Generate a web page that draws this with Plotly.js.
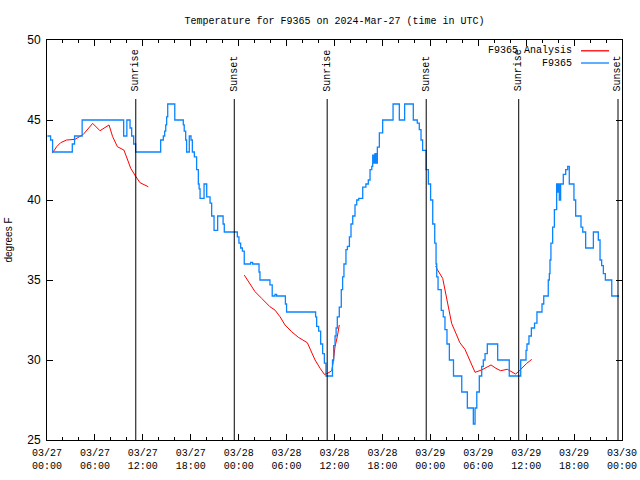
<!DOCTYPE html>
<html><head><meta charset="utf-8">
<script src="https://cdn.plot.ly/plotly-3.0.1.min.js"></script>
<style>html,body{margin:0;padding:0;background:#fff}</style>
</head><body><div id="chart" style="width:640px;height:480px"></div>
<script>
// F9365 observed temperature (deg F), step series
const blueTimes = [
'2024-03-27 00:03','2024-03-27 00:27','2024-03-27 00:42','2024-03-27 03:10','2024-03-27 03:27','2024-03-27 04:24',
'2024-03-27 09:36','2024-03-27 10:00','2024-03-27 10:24','2024-03-27 10:36','2024-03-27 10:51','2024-03-27 11:06',
'2024-03-27 14:14','2024-03-27 14:34','2024-03-27 14:44','2024-03-27 14:52','2024-03-27 14:59','2024-03-27 15:07',
'2024-03-27 16:00','2024-03-27 17:04','2024-03-27 17:11','2024-03-27 17:22','2024-03-27 17:29','2024-03-27 17:49',
'2024-03-27 18:02','2024-03-27 18:12','2024-03-27 18:27','2024-03-27 18:44','2024-03-27 18:57','2024-03-27 19:03',
'2024-03-27 19:10','2024-03-27 19:40','2024-03-27 20:00','2024-03-27 20:25','2024-03-27 20:37','2024-03-27 20:55',
'2024-03-27 21:22','2024-03-27 22:03','2024-03-27 22:12','2024-03-27 23:50','2024-03-28 00:02','2024-03-28 00:15',
'2024-03-28 00:28','2024-03-28 00:42','2024-03-28 01:30','2024-03-28 01:45','2024-03-28 02:33','2024-03-28 02:40',
'2024-03-28 03:55','2024-03-28 04:12','2024-03-28 04:33','2024-03-28 04:45','2024-03-28 05:51','2024-03-28 06:00',
'2024-03-28 09:38','2024-03-28 09:46','2024-03-28 10:01','2024-03-28 10:16','2024-03-28 10:31','2024-03-28 10:44',
'2024-03-28 10:56','2024-03-28 11:45','2024-03-28 11:54','2024-03-28 12:04','2024-03-28 12:12','2024-03-28 12:21',
'2024-03-28 12:36','2024-03-28 12:51','2024-03-28 13:01','2024-03-28 13:11','2024-03-28 13:26','2024-03-28 13:37',
'2024-03-28 13:52','2024-03-28 14:04','2024-03-28 14:17','2024-03-28 14:34','2024-03-28 14:47','2024-03-28 15:02',
'2024-03-28 15:32','2024-03-28 15:56','2024-03-28 16:14','2024-03-28 16:27','2024-03-28 16:40','2024-03-28 16:47',
'2024-03-28 16:57','2024-03-28 17:04','2024-03-28 17:12','2024-03-28 17:22','2024-03-28 17:37','2024-03-28 18:02',
'2024-03-28 19:20','2024-03-28 20:07','2024-03-28 20:47','2024-03-28 21:52','2024-03-28 22:22','2024-03-28 22:37',
'2024-03-28 22:50','2024-03-28 23:02','2024-03-28 23:28','2024-03-28 23:45','2024-03-29 00:02','2024-03-29 00:18',
'2024-03-29 00:33','2024-03-29 00:43','2024-03-29 00:48','2024-03-29 00:58','2024-03-29 01:22','2024-03-29 01:37',
'2024-03-29 01:50','2024-03-29 02:05','2024-03-29 02:23','2024-03-29 02:54','2024-03-29 03:56','2024-03-29 04:38',
'2024-03-29 05:23','2024-03-29 05:36','2024-03-29 05:49','2024-03-29 06:08','2024-03-29 06:26','2024-03-29 06:38',
'2024-03-29 06:51','2024-03-29 07:08','2024-03-29 08:26','2024-03-29 09:53','2024-03-29 11:19','2024-03-29 11:59',
'2024-03-29 12:06','2024-03-29 12:21','2024-03-29 12:39','2024-03-29 13:03','2024-03-29 13:21','2024-03-29 13:59',
'2024-03-29 14:12','2024-03-29 14:46','2024-03-29 14:54','2024-03-29 14:59','2024-03-29 15:06','2024-03-29 15:19',
'2024-03-29 15:32','2024-03-29 15:49','2024-03-29 15:54','2024-03-29 16:02','2024-03-29 16:09','2024-03-29 16:19',
'2024-03-29 16:39','2024-03-29 16:57','2024-03-29 17:12','2024-03-29 17:24','2024-03-29 17:59','2024-03-29 18:12',
'2024-03-29 18:52','2024-03-29 19:05','2024-03-29 19:27','2024-03-29 20:25','2024-03-29 21:02','2024-03-29 21:15',
'2024-03-29 21:27','2024-03-29 21:40','2024-03-29 21:55','2024-03-29 22:43','2024-03-29 23:38'
];
const blueTemps = [
44,43.75,43,43.5,44,45,
44,45,44.5,44,43.5,43,
43.75,44,44.3,44.7,45.2,46,
45,44.7,44.3,43.75,43,44,
43.75,43,42.7,41.9,41,40.7,
40.1,41,40.2,39.8,39,38.1,
39,38.5,38,37.7,37.3,37,
36.8,36,36.1,36,35.5,35,
34.7,34,34.1,34,33.5,33,
32.7,32.1,31.8,31,30.4,29.8,
29,30,30.9,31.5,32,32.7,
33.3,34.4,35.2,36,36.9,37.1,
37.7,38.5,39,39.7,40,40.1,
40.8,41,41.25,41.9,42.1,42.8,
42.3,42.9,42.3,43.3,44.2,45,
46,45,46,45,44.8,44.4,
43.75,43.1,41.9,41,40,38.5,
37.3,36,35.2,34.4,33.1,32.7,
31.9,31,30,29,28,27,
26,27,28,29,29.6,30,
30.4,31,30,29,30,30.6,
31,31.5,32,32.3,33,33.5,
34,35,35.4,36.25,37.3,38.3,
39.4,41,40.5,41,40,41,
41.6,41.9,42.1,41,40,39,
38.3,38,37,38,37.5,36.25,
35.9,35.4,35,34,34
];

// F9365 Analysis (deg F), three runs separated by gaps (null)
const redTimes = [
'2024-03-27 00:40','2024-03-27 01:12','2024-03-27 01:42','2024-03-27 02:27','2024-03-27 03:30','2024-03-27 04:33',
'2024-03-27 05:43','2024-03-27 06:38','2024-03-27 07:46','2024-03-27 08:13','2024-03-27 08:49','2024-03-27 09:38',
'2024-03-27 10:06','2024-03-27 10:29','2024-03-27 11:08','2024-03-27 11:39','2024-03-27 12:41',
'2024-03-27 18:00',
'2024-03-28 00:42','2024-03-28 01:25','2024-03-28 02:03','2024-03-28 02:53','2024-03-28 03:55','2024-03-28 04:33',
'2024-03-28 05:11','2024-03-28 05:48','2024-03-28 06:38','2024-03-28 07:28','2024-03-28 08:36','2024-03-28 09:00',
'2024-03-28 09:34','2024-03-28 10:12','2024-03-28 10:44','2024-03-28 11:09','2024-03-28 11:39','2024-03-28 11:51',
'2024-03-28 12:04','2024-03-28 12:21','2024-03-28 12:36',
'2024-03-28 18:00',
'2024-03-29 00:40','2024-03-29 00:54','2024-03-29 01:33','2024-03-29 01:51','2024-03-29 02:10','2024-03-29 02:40',
'2024-03-29 03:12','2024-03-29 03:42','2024-03-29 04:20','2024-03-29 04:58','2024-03-29 05:36','2024-03-29 06:26',
'2024-03-29 07:04','2024-03-29 07:36','2024-03-29 08:13','2024-03-29 08:48','2024-03-29 09:38','2024-03-29 10:12',
'2024-03-29 10:41','2024-03-29 11:09','2024-03-29 11:36','2024-03-29 12:04','2024-03-29 12:42'
];
const redTemps = [
42.92,43.33,43.58,43.75,43.79,44.1,
44.79,44.33,44.69,43.96,43.33,43.12,
42.5,41.98,41.46,41.08,40.83,
null,
35.31,34.79,34.27,33.85,33.33,33.12,
32.7,32.19,31.77,31.42,31.08,30.63,
30,29.48,29.1,29.17,29.33,29.9,
30.83,31.46,32.19,
null,
35.88,35.63,35.1,34.38,33.54,32.29,
31.67,31.08,30.67,30,29.23,29.38,
29.54,29.69,29.48,29.33,29.42,29.27,
29.12,29.33,29.58,29.79,30.04
];

// Sunrise / sunset markers
const eventTimes = ['2024-03-27 11:07','2024-03-27 23:27','2024-03-28 11:05','2024-03-28 23:29','2024-03-29 11:04','2024-03-29 23:30'];
const eventLabels = ['Sunrise','Sunset','Sunrise','Sunset','Sunrise','Sunset'];

// Series names and colours (key drawn at top right, gnuplot style: text then sample line)
const seriesNames = ['F9365 Analysis', 'F9365'];
const seriesColors = ['#ff0000', '#0a84ff'];

const xRange = ['2024-03-27 00:00','2024-03-30 00:00'];
const yRange = [25, 50];

const mono = 'Liberation Mono, DejaVu Sans Mono, monospace';
const sans = 'Liberation Sans, Arial, sans-serif';

const traces = [
  {x: redTimes, y: redTemps, type: 'scatter', mode: 'lines', name: seriesNames[0],
   line: {color: seriesColors[0], width: 1}, connectgaps: false},
  {x: blueTimes, y: blueTemps, type: 'scatter', mode: 'lines', name: seriesNames[1],
   line: {color: seriesColors[1], width: 1.3, shape: 'hv'}}
];

const shapes = eventTimes.map(t => ({type: 'line', xref: 'x', yref: 'paper', x0: t, x1: t, y0: 0, y1: 0.8525,
  line: {color: '#000', width: 1}}));
const annotations = eventTimes.map((t, i) => ({xref: 'x', yref: 'paper', x: t, y: 0.866, text: eventLabels[i],
  textangle: -90, showarrow: false, xanchor: 'center', yanchor: 'bottom',
  font: {family: mono, size: 10, color: '#000'}}));

// key entries
const keyY = [0.973, 0.9425];
seriesNames.forEach((n, i) => {
  annotations.push({xref: 'paper', yref: 'paper', x: 0.9165, y: keyY[i], text: n, showarrow: false,
    xanchor: 'right', yanchor: 'middle', font: {family: mono, size: 10, color: '#000'}});
  shapes.push({type: 'line', xref: 'paper', yref: 'paper', x0: 0.9287, x1: 0.9774, y0: keyY[i], y1: keyY[i],
    line: {color: seriesColors[i], width: 1.3}});
});

const layout = {
  width: 640, height: 480,
  margin: {l: 47, r: 18, t: 40, b: 40, pad: 0},
  paper_bgcolor: '#fff', plot_bgcolor: '#fff',
  title: {text: 'Temperature for F9365 on 2024-Mar-27 (time in UTC)', font: {family: mono, size: 10, color: '#000'},
    x: 0.5, xref: 'paper', xanchor: 'center', y: 1 - 20/480, yref: 'container', yanchor: 'middle'},
  xaxis: {type: 'date', range: xRange, showgrid: false, zeroline: false,
    tickmode: 'linear', tick0: '2024-03-27 00:00', dtick: 6*3600000, tickformat: '%m/%d<br>%H:%M',
    ticks: 'inside', ticklen: 6, tickcolor: '#000', showline: true, linecolor: '#000', linewidth: 1, mirror: 'ticks',
    ticklabelstandoff: 3,
    minor: {dtick: 2*3600000, ticks: 'inside', ticklen: 3, tickcolor: '#000'},
    tickfont: {family: mono, size: 10, color: '#000'}},
  yaxis: {range: yRange, showgrid: false, zeroline: false, tickmode: 'linear', tick0: 25, dtick: 5,
    ticks: 'inside', ticklen: 6, tickcolor: '#000', showline: true, linecolor: '#000', linewidth: 1, mirror: 'ticks',
    ticklabelstandoff: 3,
    tickfont: {family: sans, size: 12, color: '#000'},
    title: {text: 'degrees F', font: {family: sans, size: 10, color: '#000'}, standoff: 12}},
  showlegend: false,
  shapes: shapes, annotations: annotations
};

Plotly.newPlot('chart', traces, layout, {displayModeBar: false, staticPlot: true});
</script></body></html>
